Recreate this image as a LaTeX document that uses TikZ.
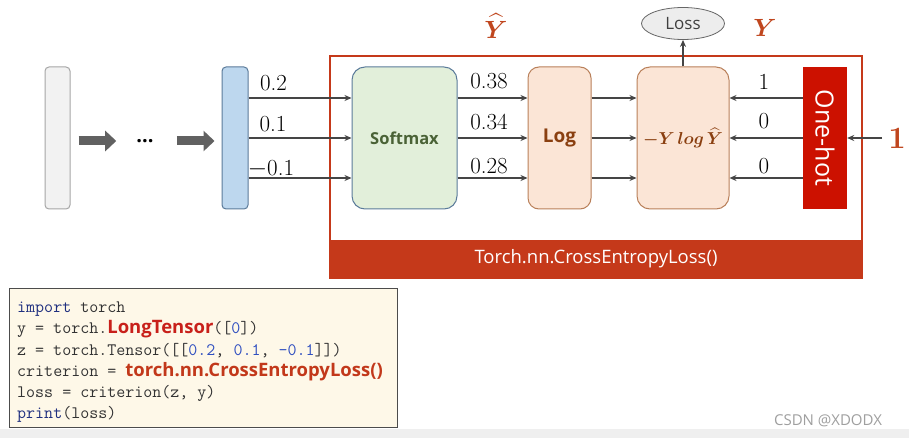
\documentclass[tikz,border=0pt]{standalone}
\usepackage{amsmath,bm}
\usepackage{fontspec}
\newfontfamily\sansf{Open Sans}
\usetikzlibrary{shapes.geometric,arrows.meta,calc}
\definecolor{bandRed}{HTML}{C5391A}
\definecolor{oneRed}{HTML}{CC1100}
\definecolor{labRed}{HTML}{C0461E}
\definecolor{greenFill}{HTML}{E2EFDA}
\definecolor{greenText}{HTML}{4A6236}
\definecolor{blueStroke}{HTML}{5B7B9A}
\definecolor{peach}{HTML}{FBE5D6}
\definecolor{peachStroke}{HTML}{B9805A}
\definecolor{brownText}{HTML}{8A3F10}
\definecolor{blueFill}{HTML}{BDD7EE}
\definecolor{greyFill}{HTML}{F2F2F2}
\definecolor{lineGrey}{HTML}{454545}
\definecolor{codeBg}{HTML}{FEF8E8}
\definecolor{navy}{HTML}{1F2F7F}
\definecolor{numBlue}{HTML}{2F4FC0}
\definecolor{codeRed}{HTML}{C8201A}
\definecolor{codeRed2}{HTML}{C2381A}
\definecolor{codeText}{HTML}{333333}
\definecolor{stripGrey}{HTML}{EFEFEF}
\definecolor{lossFill}{HTML}{EDEDED}
\tikzset{
  bar/.style={draw, line width=1pt, inner sep=0pt, minimum width=#1, minimum height=142pt, rounded corners=4pt},
  stage/.style={draw, line width=1pt, inner sep=0pt, minimum height=142pt, rounded corners=13pt},
  conn/.style={draw=lineGrey, line width=1.6pt, -{Stealth[length=7pt,width=6pt]}},
  blockarrow/.style={draw=lineGrey!85, line width=9pt, -{Triangle[length=11pt,width=20pt]}},
  numlab/.style={inner sep=0pt, font=\fontsize{23}{23}\selectfont},
  codeline/.style={anchor=base west, inner sep=0pt, text=codeText, font=\ttfamily\fontsize{17.5}{18}\selectfont},
}
\begin{document}
\begin{tikzpicture}[x=1pt,y=-1pt]
\useasboundingbox (0,0) rectangle (909,438);
\fill[white] (0,0) rectangle (909,438);
\fill[stripGrey] (0,429) rectangle (909,438);

% outer box and band
\node[draw=bandRed, line width=1.5pt, inner sep=0pt, minimum width=532pt, minimum height=222pt] (outer) at (596,167) {};
\node[fill=bandRed, inner sep=0pt, minimum width=532pt, minimum height=38pt, text=white, font=\sansf\fontsize{18.5}{18}\selectfont] (band) at (596,259) {Torch.nn.CrossEntropyLoss()};

% bars
\node[bar=25pt, draw=gray!70, fill=greyFill] (g) at (57.5,138) {};
\node[bar=26pt, draw=blueStroke, fill=blueFill] (b) at (235,138) {};
\node[inner sep=0pt, minimum height=10pt, font=\sansf\bfseries\fontsize{20}{20}\selectfont] (dots) at (145,141) {...};
\draw[blockarrow] ([xshift=8pt,yshift=-3pt]g.east) -- ([xshift=-20pt]dots.west);
\draw[blockarrow] ([xshift=23pt]dots.east) -- ([xshift=-7pt,yshift=-3pt]b.west);

% stages
\node[stage, draw=blueStroke, fill=greenFill, minimum width=105pt, text=greenText, font=\sansf\bfseries\fontsize{16.5}{16}\selectfont] (s) at (404.5,138) {Softmax};
\node[stage, draw=peachStroke, fill=peach, minimum width=63pt, rounded corners=11pt, text=brownText, font=\sansf\bfseries\fontsize{19}{19}\selectfont] (l) at (559.5,138) {Log};
\node[stage, draw=peachStroke, fill=peach, minimum width=92pt, text=brownText, font=\fontsize{17}{17}\selectfont] (f) at (683,138) {$\bm{-Y\,log\,\widehat{Y}}$};
\node[fill=oneRed, inner sep=0pt, minimum width=44pt, minimum height=142pt] (o) at (825,138) {};
\node[rotate=-90, text=white, font=\sansf\fontsize{25}{25}\selectfont, inner sep=0pt] (ot) at (o.center) {One-hot};

% loss ellipse
\node[ellipse, draw=gray!80!black, line width=0.8pt, fill=lossFill, minimum width=83pt, minimum height=32pt, inner sep=0pt, text=black!75, font=\sansf\fontsize{17}{17}\selectfont] (loss) at (683,23.5) {Loss};
\draw[conn] (f.north) -- (loss.south);

% connectors
\foreach \d in {40,0,-40} {
  \draw[conn] ([yshift=\d pt]b.east) -- ([yshift=\d pt]s.west);
  \draw[conn] ([yshift=\d pt]s.east) -- ([yshift=\d pt]l.west);
  \draw[conn] ([yshift=\d pt]l.east) -- ([yshift=\d pt]f.west);
  \draw[conn] ([yshift=\d pt]o.west) -- ([yshift=\d pt]f.east);
}

% number labels
\node[numlab] (n1) at (273.5,83.5) {0.2};
\node[numlab] (n2) at (273,124) {0.1};
\node[numlab] (n3) at (271,169) {$-$0.1};
\node[numlab] (p1) at (489,81.5) {0.38};
\node[numlab] (p2) at (489,122) {0.34};
\node[numlab] (p3) at (489,166.5) {0.28};
\node[numlab] (y1) at (764,82) {1};
\node[numlab] (y2) at (764,121.5) {0};
\node[numlab] (y3) at (764,166) {0};

% titles
\node[text=labRed, font=\fontsize{29}{29}\selectfont, inner sep=0pt] (yhat) at (496,26) {$\bm{\widehat{Y}}$};
\node[text=labRed, font=\fontsize{29}{29}\selectfont, inner sep=0pt] (ytrue) at (765,28) {$\bm{Y}$};
\node[text=labRed, font=\bfseries\fontsize{31}{31}\selectfont, inner sep=0pt] (one) at (897,138) {1};
\draw[conn] ([xshift=-6pt]one.west) -- (o.east);

% code box
\node[draw=black!70, line width=1pt, fill=codeBg, inner sep=0pt, minimum width=388pt, minimum height=139pt] (code) at (203,357.5) {};
\node[codeline] (c1) at (17,312) {\textcolor{navy}{import} torch};
\node[codeline] (c2) at (17,333) {y = torch.{\sansf\bfseries\fontsize{18.5}{18}\selectfont\textcolor{codeRed}{LongTensor}}([\textcolor{numBlue}{0}])};
\node[codeline] (c3) at (17,355) {z = torch.Tensor([[\textcolor{numBlue}{0.2}, \textcolor{numBlue}{0.1}, \textcolor{numBlue}{-0.1}]])};
\node[codeline] (c4) at (17,376) {criterion = {\sansf\bfseries\fontsize{18.5}{18}\selectfont\textcolor{codeRed2}{torch.nn.CrossEntropyLoss()}}};
\node[codeline] (c5) at (17,397) {loss = criterion(z, y)};
\node[codeline] (c6) at (17,418) {\textcolor{navy}{print}(loss)};

% watermark
\node[text=gray!75, font=\sansf\fontsize{15}{15}\selectfont, inner sep=0pt] (wm) at (828,421) {CSDN @XDODX};
\end{tikzpicture}
\end{document}
